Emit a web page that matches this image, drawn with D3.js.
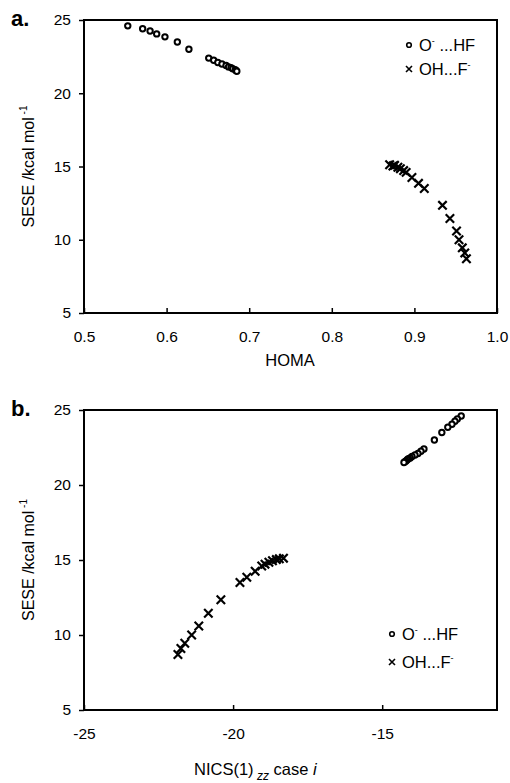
<!DOCTYPE html>
<html><head><meta charset="utf-8">
<script src="https://cdn.jsdelivr.net/npm/d3@7"></script>
<style>body{margin:0;background:#fff}text{font-family:"Liberation Sans",Arial,sans-serif;fill:#000}</style>
</head><body>
<svg id="c" width="510" height="783"></svg>
<script>
// Series O-...HF
const seseO = [24.6,24.4,24.25,24.05,23.85,23.5,23.0,22.4,22.25,22.1,22.0,21.9,21.8,21.75,21.68,21.6,21.55,21.5];
const homaO = [0.553,0.571,0.580,0.588,0.598,0.613,0.627,0.651,0.657,0.662,0.667,0.672,0.675,0.678,0.680,0.683,0.684,0.685];
const nicsO = [-12.35,-12.48,-12.56,-12.66,-12.8,-13.0,-13.25,-13.6,-13.7,-13.8,-13.9,-14.0,-14.06,-14.12,-14.16,-14.2,-14.24,-14.27];
// Series OH...F-
const seseH = [15.12,15.08,15.03,14.95,14.85,14.72,14.6,14.25,13.85,13.5,12.35,11.45,10.6,10.0,9.45,9.1,8.7];
const homaH = [0.870,0.876,0.874,0.880,0.883,0.887,0.890,0.897,0.905,0.912,0.934,0.943,0.951,0.954,0.958,0.961,0.963];
const nicsH = [-18.31,-18.45,-18.55,-18.68,-18.8,-18.93,-19.04,-19.26,-19.54,-19.77,-20.41,-20.83,-21.15,-21.39,-21.62,-21.75,-21.85];
const yTicks = [5,10,15,20,25];
const xTicksA = ["0.5","0.6","0.7","0.8","0.9","1.0"];
const xTicksB = ["-25","-20","-15"];

const svg = d3.select("#c");

function panel(cfg){
  const {top,bottom,left,right,xDom,xTicks,xData,label,legY} = cfg;
  const x = d3.scaleLinear().domain(xDom).range([left,right]);
  const y = d3.scaleLinear().domain([5,25]).range([bottom,top]);
  const g = svg.append("g");
  const ya = g.append("g").attr("transform",`translate(${left},0)`)
    .call(d3.axisLeft(y).tickValues(yTicks).tickSize(5).tickSizeOuter(0).tickPadding(8));
  ya.select(".domain").remove();
  ya.selectAll("line").attr("stroke","#000").attr("stroke-width",1.5);
  ya.selectAll("text").attr("font-size",15.5).attr("font-family","Liberation Sans, Arial, sans-serif");
  const xa = g.append("g").attr("transform",`translate(0,${bottom})`)
    .call(d3.axisBottom(x).tickValues(xTicks.map(Number)).tickFormat((d,i)=>xTicks[i]).tickSize(-5).tickSizeOuter(0).tickPadding(18));
  xa.select(".domain").remove();
  xa.selectAll("line").attr("stroke","#000").attr("stroke-width",1.5);
  xa.selectAll("text").attr("font-size",15.5).attr("font-family","Liberation Sans, Arial, sans-serif");
  g.append("rect").attr("x",left).attr("y",top).attr("width",right-left).attr("height",bottom-top)
    .attr("fill","none").attr("stroke","#000").attr("stroke-width",2);
  g.append("text").attr("x",11).attr("y",top+6).attr("font-size",22).attr("font-weight","bold").text(label);
  g.append("g").selectAll("circle").data(seseO.map((s,i)=>[xData.O[i],s])).join("circle")
    .attr("cx",d=>x(d[0])).attr("cy",d=>y(d[1])).attr("r",2.7)
    .attr("fill","#fff").attr("stroke","#000").attr("stroke-width",2);
  const cs = 4.2;
  g.append("g").selectAll("path").data(seseH.map((s,i)=>[xData.H[i],s])).join("path")
    .attr("d",d=>{const cx=x(d[0]),cy=y(d[1]);return `M${cx-cs},${cy-cs}L${cx+cs},${cy+cs}M${cx-cs},${cy+cs}L${cx+cs},${cy-cs}`;})
    .attr("stroke","#000").attr("stroke-width",2.2).attr("fill","none");
  const lg = g.append("g");
  const lx = cfg.legX;
  lg.append("circle").attr("cx",lx).attr("cy",legY[0]).attr("r",2.3).attr("fill","#fff").attr("stroke","#000").attr("stroke-width",1.6);
  const t1 = lg.append("text").attr("x",lx+10).attr("y",legY[0]+6).attr("font-size",16.5);
  t1.append("tspan").text("O");
  t1.append("tspan").attr("dy",-7).attr("font-size",9).text("-");
  t1.append("tspan").attr("dy",7).text(" ...HF");
  lg.append("path").attr("d",`M${lx-3},${legY[1]-3}L${lx+3},${legY[1]+3}M${lx-3},${legY[1]+3}L${lx+3},${legY[1]-3}`)
    .attr("stroke","#000").attr("stroke-width",1.6);
  const t2 = lg.append("text").attr("x",lx+10).attr("y",legY[1]+6).attr("font-size",16.5);
  t2.append("tspan").text("OH...F");
  t2.append("tspan").attr("dy",-7).attr("font-size",9).text("-");
  const yt = g.append("text").attr("transform",`translate(34,${(top+bottom)/2}) rotate(-90)`)
    .attr("text-anchor","middle").attr("font-size",16);
  yt.append("tspan").text(cfg.yTitle);
  yt.append("tspan").attr("dy",-7).attr("font-size",10).text(" -1");
  return {x,y};
}

panel({top:20,bottom:313,left:84,right:497,xDom:[0.5,1.0],xTicks:xTicksA,
  xData:{O:homaO,H:homaH},label:"a.",legX:409,legY:[45,69],yTitle:"SESE /kcal mol"});
svg.append("text").attr("x",290).attr("y",366).attr("text-anchor","middle").attr("font-size",16.5).text("HOMA");

panel({top:410,bottom:710,left:84,right:497,xDom:[-25,-11.15],xTicks:xTicksB,
  xData:{O:nicsO,H:nicsH},label:"b.",legX:392,legY:[634,662],yTitle:"SESE  /kcal mol"});
const xt = svg.append("text").attr("x",194).attr("y",775).attr("font-size",16.5);
xt.append("tspan").text("NICS(1)");
xt.append("tspan").attr("dy",5).attr("font-size",12).attr("font-style","italic").text(" zz");
xt.append("tspan").attr("dy",-5).text("   case  ");
xt.append("tspan").attr("font-style","italic").text("i");
</script>
</body></html>
